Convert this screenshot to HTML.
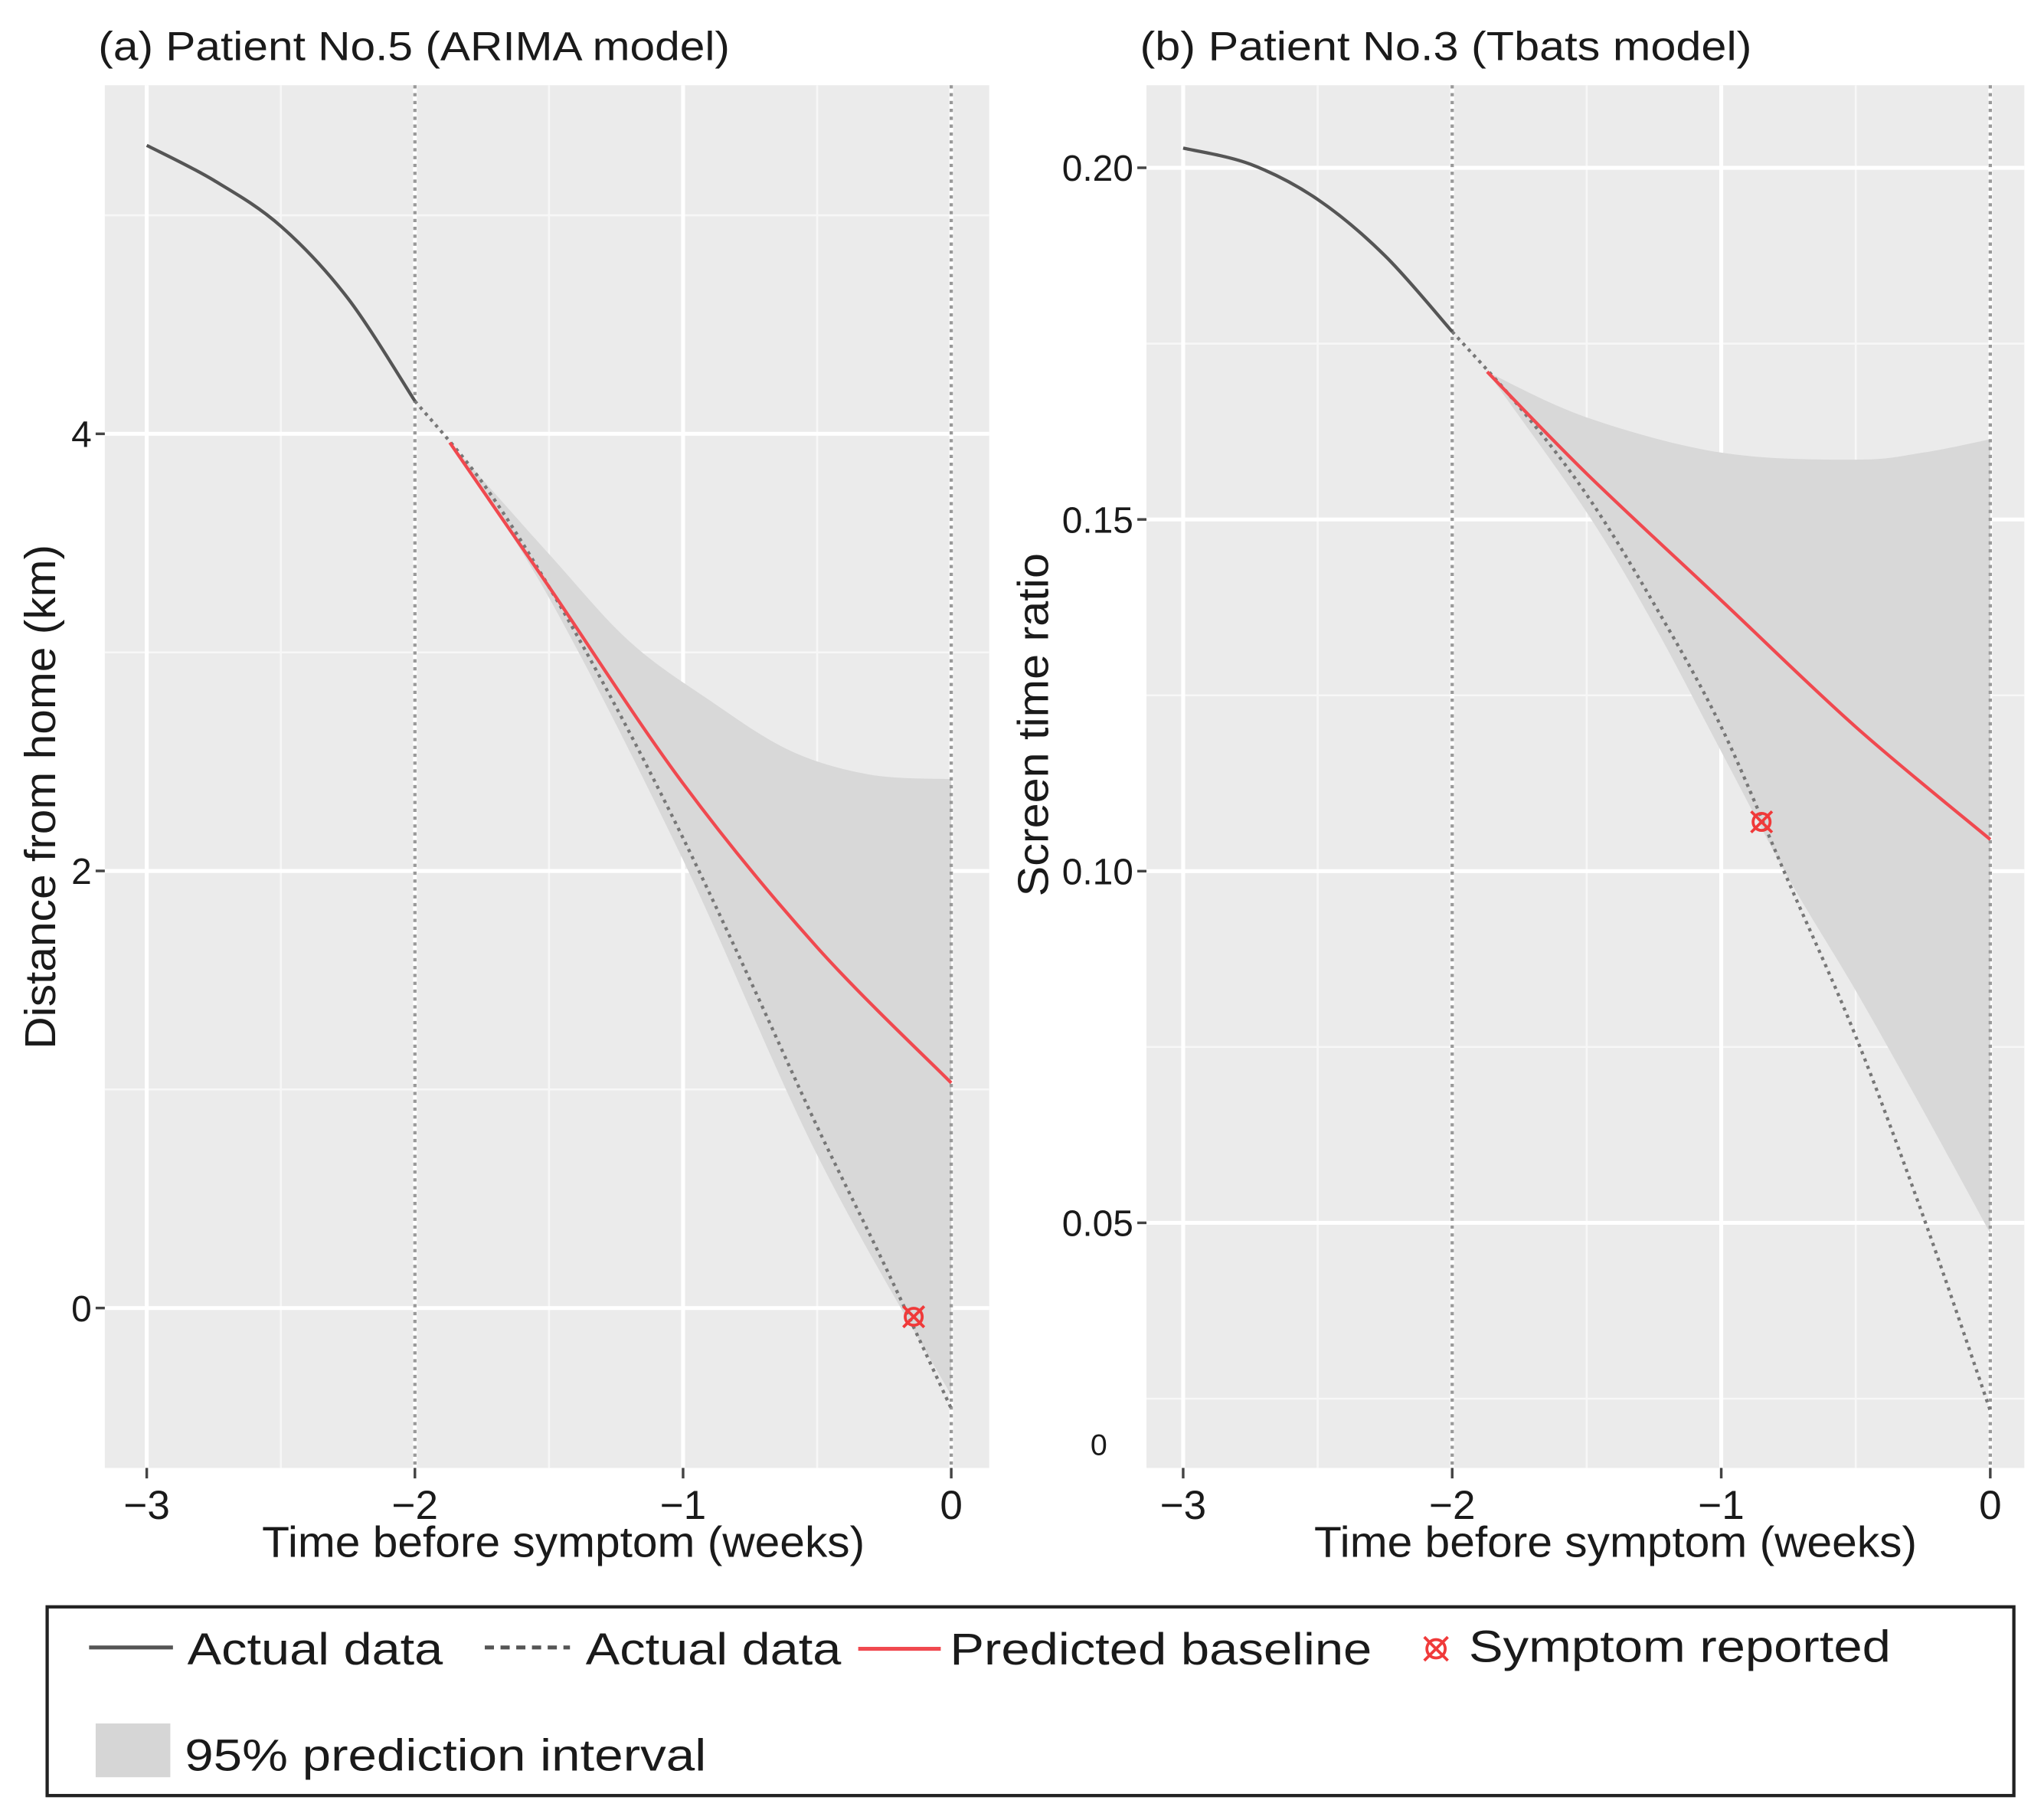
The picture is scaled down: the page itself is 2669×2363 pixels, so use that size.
<!DOCTYPE html>
<html><head><meta charset="utf-8"><style>
html,body{margin:0;padding:0;background:#fff}
svg{display:block}
text{font-family:"Liberation Sans",sans-serif;fill:#1a1a1a}
</style></head><body>
<svg id="chart" width="2669" height="2363" viewBox="0 0 1560 1381" preserveAspectRatio="none" xmlns="http://www.w3.org/2000/svg">
<g id="pa"></g>
<g id="pb"></g>
<g>
 <rect x="36" y="1226" width="1501" height="144" fill="#fff" stroke="#222" stroke-width="2.5"/>
 <g><line x1="68" y1="1257" x2="132" y2="1257" stroke="#555" stroke-width="3"/><text x="143" y="1270" font-size="34" textLength="195" lengthAdjust="spacingAndGlyphs">Actual data</text></g>
 <g><line x1="370" y1="1257" x2="435" y2="1257" stroke="#555" stroke-width="3" stroke-dasharray="7,5"/><text x="447" y="1270" font-size="34" textLength="195" lengthAdjust="spacingAndGlyphs">Actual data</text></g>
 <g><line x1="655" y1="1258" x2="718" y2="1258" stroke="#f0494f" stroke-width="3"/><text x="725" y="1270" font-size="34" textLength="322" lengthAdjust="spacingAndGlyphs">Predicted baseline</text></g>
 <g><g stroke="#f03a3a" stroke-width="2.2" fill="none"><circle cx="1096" cy="1258" r="7"/><line x1="1087" y1="1249" x2="1105" y2="1267"/><line x1="1105" y1="1249" x2="1087" y2="1267"/></g><text x="1121" y="1268" font-size="34" textLength="322" lengthAdjust="spacingAndGlyphs">Symptom reported</text></g>
 <g><rect x="73" y="1315" width="57" height="41" fill="#d6d6d6"/><text x="141" y="1351" font-size="34" textLength="398" lengthAdjust="spacingAndGlyphs">95% prediction interval</text></g>
</g>
</svg>
<script>
// Panel A data (ARIMA, km)
const aSolidX=[-3,-2.75,-2.5,-2.25,-2];
const aSolidY=[5.32,5.16,4.95,4.62,4.15];
const aDashX=[-2,-1.75,-1.5,-1.25,-1,-0.75,-0.5,-0.25,0];
const aDashY=[4.15,3.78,3.3,2.75,2.15,1.5,0.83,0.2,-0.46];
const aPredX=[-1.87,-1.5,-1,-0.5,0];
const aPredY=[3.96,3.3,2.4,1.65,1.03];
const aUpX=[-1.87,-1.5,-1.2,-0.9,-0.6,-0.3,0];
const aUpY=[3.96,3.45,3.05,2.78,2.55,2.44,2.42];
const aLoX=[-1.87,-1.5,-1,-0.5,0];
const aLoY=[3.96,3.25,2.05,0.7,-0.4];
const aSymX=[-0.14], aSymY=[-0.04];
const aTicksX=[-3,-2,-1,0], aTicksY=[0,2,4], aMinorY=[1,3,5];
// Panel B data (Tbats, ratio)
const bSolidX=[-3,-2.75,-2.5,-2.25,-2];
const bSolidY=[0.2028,0.2005,0.1955,0.1875,0.1767];
const bDashX=[-2,-1.75,-1.5,-1.25,-1,-0.75,-0.5,-0.25,0];
const bDashY=[0.1767,0.166,0.1535,0.138,0.1205,0.0985,0.0765,0.051,0.0233];
const bPredX=[-1.87,-1.5,-1,-0.5,0];
const bPredY=[0.171,0.1565,0.1385,0.1205,0.1045];
const bUpX=[-1.87,-1.5,-1,-0.5,-0.25,0];
const bUpY=[0.171,0.1645,0.1595,0.1585,0.1595,0.1614];
const bLoX=[-1.87,-1.5,-1.25,-1,-0.75,-0.5,-0.25,0];
const bLoY=[0.171,0.151,0.135,0.117,0.099,0.083,0.066,0.0485];
const bSymX=[-0.85], bSymY=[0.107];
const bTicksX=[-3,-2,-1,0], bTicksY=[0.05,0.10,0.15,0.20], bTickLbl=["0.05","0.10","0.15","0.20"], bMinorY=[0.025,0.075,0.125,0.175];

const NS="http://www.w3.org/2000/svg";
function mk(p,tag,at){const e=document.createElementNS(NS,tag);for(const k in at)e.setAttribute(k,at[k]);p.appendChild(e);return e;}
function path(xs,ys,sx,sy){
  const P=xs.map((x,i)=>[sx(x),sy(ys[i])]);let d="M"+P[0][0]+","+P[0][1];
  for(let i=0;i<P.length-1;i++){const p0=P[Math.max(0,i-1)],p1=P[i],p2=P[i+1],p3=P[Math.min(P.length-1,i+2)];
    d+=" C"+(p1[0]+(p2[0]-p0[0])/6)+","+(p1[1]+(p2[1]-p0[1])/6)+" "+(p2[0]-(p3[0]-p1[0])/6)+","+(p2[1]-(p3[1]-p1[1])/6)+" "+p2[0]+","+p2[1];}
  return d;}
function panel(g,cfg){
  const sx=v=>cfg.x0+(v-(-3))*(cfg.x1-cfg.x0)/3;
  const sy=v=>cfg.ya+(v-cfg.va)*(cfg.yb-cfg.ya)/(cfg.vb-cfg.va);
  const bg=mk(g,"rect",{x:cfg.L,y:65,width:cfg.R-cfg.L,height:1055,fill:"#ebebeb"});
  
  
  cfg.minY.forEach(v=>{const l=mk(g,"line",{x1:cfg.L,x2:cfg.R,y1:sy(v),y2:sy(v),stroke:"#f7f7f7","stroke-width":1.5});
    
    });
  [-2.5,-1.5,-0.5].forEach(v=>{const l=mk(g,"line",{x1:sx(v),x2:sx(v),y1:65,y2:1120,stroke:"#f7f7f7","stroke-width":1.5});
    
    });
  cfg.ty.forEach(v=>{const l=mk(g,"line",{x1:cfg.L,x2:cfg.R,y1:sy(v),y2:sy(v),stroke:"#fff","stroke-width":3});
    
    });
  cfg.tx.forEach(v=>{const l=mk(g,"line",{x1:sx(v),x2:sx(v),y1:65,y2:1120,stroke:"#fff","stroke-width":3});
    
    });
  const up=path(cfg.upX,cfg.upY,sx,sy);
  const loRev=path(cfg.loX.slice().reverse(),cfg.loY.slice().reverse(),sx,sy);
  const band=mk(g,"path",{d:up+" L"+loRev.slice(1)+" Z",fill:"#d8d8d8"});
  
  
  [-2,0].forEach(v=>{const l=mk(g,"line",{x1:sx(v),x2:sx(v),y1:65,y2:1120,stroke:"#999","stroke-width":2.5,"stroke-dasharray":"2.5,3.5"});
    
    });
  const dsh=mk(g,"path",{d:path(cfg.dX,cfg.dY,sx,sy),fill:"none",stroke:"#777","stroke-width":2.5,"stroke-dasharray":"2.5,3.5"});
  
  
  const sol=mk(g,"path",{d:path(cfg.sX,cfg.sY,sx,sy),fill:"none",stroke:"#555","stroke-width":2.5});
  
  
  const pr=mk(g,"path",{d:path(cfg.pX,cfg.pY,sx,sy),fill:"none",stroke:"#f0494f","stroke-width":2.5});
  
  
  cfg.symX.forEach((v,i)=>{const cx=sx(v),cy=sy(cfg.symY[i]);const s=mk(g,"g",{stroke:"#f03a3a","stroke-width":2.2,fill:"none"});
    
    
    mk(s,"circle",{cx:cx,cy:cy,r:6.5});mk(s,"line",{x1:cx-8,y1:cy-8,x2:cx+8,y2:cy+8});mk(s,"line",{x1:cx+8,y1:cy-8,x2:cx-8,y2:cy+8});});
  cfg.tx.forEach(v=>{mk(g,"line",{x1:sx(v),x2:sx(v),y1:1120,y2:1128,stroke:"#444","stroke-width":2});
    const t=mk(g,"text",{x:sx(v),y:1159,"font-size":31,"text-anchor":"middle",fill:"#444"});t.textContent=v<0?"−"+(-v):""+v;
    
    });
  cfg.ty.forEach((v,i)=>{mk(g,"line",{x1:cfg.L-7,x2:cfg.L,y1:sy(v),y2:sy(v),stroke:"#444","stroke-width":2});
    const t=mk(g,"text",{x:cfg.L-10,y:sy(v)+10,"font-size":28,"text-anchor":"end",fill:"#444"});t.textContent=cfg.tl[i];
    
    });
  if(cfg.extra){const t=mk(g,"text",{x:cfg.L-30,y:1110,"font-size":23,"text-anchor":"end",fill:"#444"});t.textContent="0";
    
    }
  const xt=mk(g,"text",{x:cfg.xtx,y:1188,"font-size":33,textLength:460,lengthAdjust:"spacingAndGlyphs"});xt.textContent="Time before symptom (weeks)";
  
  
  const yt=mk(g,"text",{x:0,y:0,"font-size":33,"text-anchor":"middle",transform:"translate("+cfg.ytx+","+cfg.yty+") rotate(-90)",textLength:cfg.ytl,lengthAdjust:"spacingAndGlyphs"});yt.textContent=cfg.ylab;
  
  
  const tt=mk(g,"text",{x:cfg.L-5,y:46,"font-size":31,textLength:cfg.ttl,lengthAdjust:"spacingAndGlyphs"});tt.textContent=cfg.title;
  
  
}
panel(document.getElementById("pa"),{L:80,R:755,x0:112,x1:726,ya:998,va:0,yb:331,vb:4,
 sX:aSolidX,sY:aSolidY,dX:aDashX,dY:aDashY,pX:aPredX,pY:aPredY,upX:aUpX,upY:aUpY,loX:aLoX,loY:aLoY,symX:aSymX,symY:aSymY,
 tx:aTicksX,ty:aTicksY,tl:aTicksY.map(String),minY:aMinorY,xtx:200,ytx:42,yty:608,ytl:385,ylab:"Distance from home (km)",title:"(a) Patient No.5 (ARIMA model)",ttl:482});
panel(document.getElementById("pb"),{L:875,R:1545,x0:903,x1:1519,ya:128,va:0.20,yb:933,vb:0.05,
 sX:bSolidX,sY:bSolidY,dX:bDashX,dY:bDashY,pX:bPredX,pY:bPredY,upX:bUpX,upY:bUpY,loX:bLoX,loY:bLoY,symX:bSymX,symY:bSymY,
 tx:bTicksX,ty:bTicksY,tl:bTickLbl,minY:bMinorY,extra:true,xtx:1003,ytx:800,yty:553,ytl:262,ylab:"Screen time ratio",title:"(b) Patient No.3 (Tbats model)",ttl:467});
</script>
</body></html>
